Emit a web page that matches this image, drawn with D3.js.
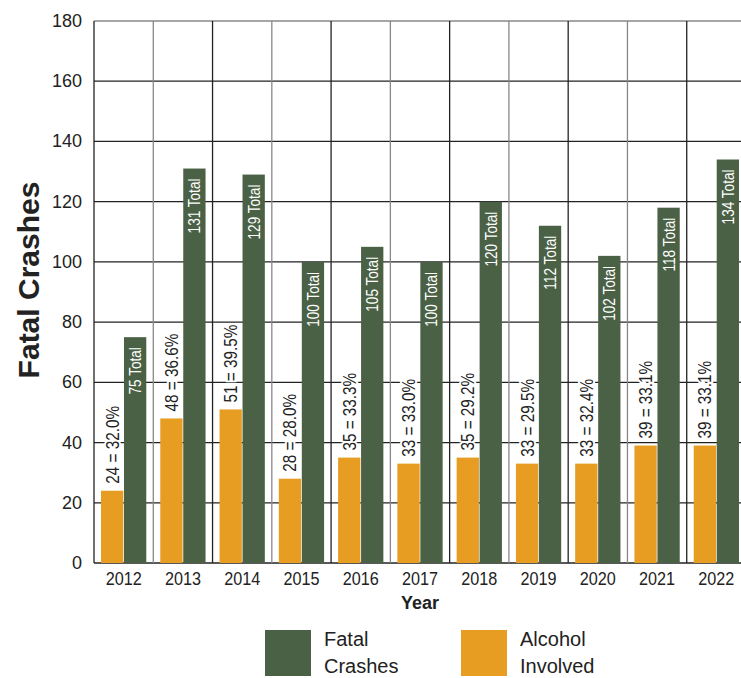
<!DOCTYPE html>
<html>
<head>
<meta charset="utf-8">
<script src="https://cdn.jsdelivr.net/npm/d3@7"></script>
<style>
  body { margin: 0; background: #fff; }
  text { font-family: "Liberation Sans", Arial, sans-serif; }
</style>
</head>
<body>
<svg width="741" height="678"></svg>
<script>
// Chart data
const years = ["2012", "2013", "2014", "2015", "2016", "2017", "2018", "2019", "2020", "2021", "2022"];
const fatalCrashes = [75, 131, 129, 100, 105, 100, 120, 112, 102, 118, 134];
const alcoholInvolved = [24, 48, 51, 28, 35, 33, 35, 33, 33, 39, 39];
const alcoholPercent = ["32.0", "36.6", "39.5", "28.0", "33.3", "33.0", "29.2", "29.5", "32.4", "33.1", "33.1"];
const yTicks = [0, 20, 40, 60, 80, 100, 120, 140, 160, 180];

const green = "#4b6145";
const orange = "#e69d22";

const svg = d3.select("svg");

// Plot area
const margin = {top: 21, left: 94};
const plotWidth = 652;
const plotHeight = 542;
const graph = svg.append("g")
  .attr("transform", `translate(${margin.left},${margin.top})`);

const x = d3.scaleBand()
  .domain(years)
  .range([0, plotWidth]);

const y = d3.scaleLinear()
  .domain([0, 180])
  .range([plotHeight, 0]);

// inner scale for the two bars in each year
const inner = d3.scaleBand()
  .domain(["alcohol", "fatal"])
  .range([7, x.bandwidth() - 7])
  .paddingInner(0.03);

// horizontal grid lines
graph.selectAll(".hgrid")
  .data(yTicks)
  .enter()
  .append("line")
  .attr("x1", 0)
  .attr("x2", plotWidth)
  .attr("y1", d => y(d))
  .attr("y2", d => y(d))
  .attr("stroke", d => d === 180 ? "#888" : "#222")
  .attr("stroke-width", 1.3);

// vertical grid lines
graph.selectAll(".vgrid")
  .data(years)
  .enter()
  .append("line")
  .attr("x1", d => x(d))
  .attr("x2", d => x(d))
  .attr("y1", 0)
  .attr("y2", plotHeight)
  .attr("stroke", (d, i) => i % 2 === 1 ? "#888" : "#222")
  .attr("stroke-width", 1.3);

// alcohol bars
graph.selectAll(".alc")
  .data(years)
  .enter()
  .append("rect")
  .attr("x", d => x(d) + inner("alcohol"))
  .attr("width", inner.bandwidth())
  .attr("y", (d, i) => y(alcoholInvolved[i]))
  .attr("height", (d, i) => plotHeight - y(alcoholInvolved[i]))
  .attr("fill", orange);

// fatal bars
graph.selectAll(".fatal")
  .data(years)
  .enter()
  .append("rect")
  .attr("x", d => x(d) + inner("fatal"))
  .attr("width", inner.bandwidth())
  .attr("y", (d, i) => y(fatalCrashes[i]))
  .attr("height", (d, i) => plotHeight - y(fatalCrashes[i]))
  .attr("fill", green);

// labels above alcohol bars (condensed look via scale, white halo over grid)
graph.selectAll(".alcLabel")
  .data(years)
  .enter()
  .append("text")
  .attr("transform", (d, i) =>
    `translate(${x(d) + inner("alcohol") + inner.bandwidth() / 2 + 6.5},${y(alcoholInvolved[i]) - 7}) rotate(-90) scale(0.85,1)`)
  .attr("font-size", 18)
  .attr("fill", "#222")
  .attr("stroke", "#fff")
  .attr("stroke-width", 4)
  .attr("paint-order", "stroke")
  .text((d, i) => `${alcoholInvolved[i]} = ${alcoholPercent[i]}%`);

// labels inside fatal bars
graph.selectAll(".fatalLabel")
  .data(years)
  .enter()
  .append("text")
  .attr("transform", (d, i) =>
    `translate(${x(d) + inner("fatal") + inner.bandwidth() / 2 + 6},${y(fatalCrashes[i]) + 10}) rotate(-90) scale(0.8,1)`)
  .attr("text-anchor", "end")
  .attr("font-size", 17)
  .attr("fill", "#fff")
  .text((d, i) => `${fatalCrashes[i]} Total`);

// y tick labels
graph.selectAll(".ytick")
  .data(yTicks)
  .enter()
  .append("text")
  .attr("x", -12)
  .attr("y", d => y(d) + 6)
  .attr("text-anchor", "end")
  .attr("font-size", 18)
  .attr("fill", "#222")
  .text(d => d);

// x tick labels
graph.selectAll(".xtick")
  .data(years)
  .enter()
  .append("text")
  .attr("transform", d => `translate(${x(d) + x.bandwidth() / 2},${plotHeight + 22}) scale(0.9,1)`)
  .attr("text-anchor", "middle")
  .attr("font-size", 18)
  .attr("fill", "#222")
  .text(d => d);

// axis titles
svg.append("text")
  .attr("transform", "translate(39,280) rotate(-90)")
  .attr("text-anchor", "middle")
  .attr("font-size", 30)
  .attr("font-weight", "bold")
  .attr("fill", "#222")
  .text("Fatal Crashes");

svg.append("text")
  .attr("x", 420)
  .attr("y", 609)
  .attr("text-anchor", "middle")
  .attr("font-size", 18)
  .attr("font-weight", "bold")
  .attr("fill", "#222")
  .text("Year");

// legend
const legendItems = [
  {color: green, lines: ["Fatal", "Crashes"], x: 265},
  {color: orange, lines: ["Alcohol", "Involved"], x: 461}
];

const legend = svg.selectAll(".legend")
  .data(legendItems)
  .enter()
  .append("g")
  .attr("transform", d => `translate(${d.x},630)`);

legend.append("rect")
  .attr("width", 46)
  .attr("height", 46)
  .attr("fill", d => d.color);

legend.each(function(d) {
  const g = d3.select(this);
  d.lines.forEach((line, i) => {
    g.append("text")
      .attr("x", 59)
      .attr("y", 16 + i * 27)
      .attr("font-size", 20)
      .attr("fill", "#222")
      .text(line);
  });
});
</script>
</body>
</html>
